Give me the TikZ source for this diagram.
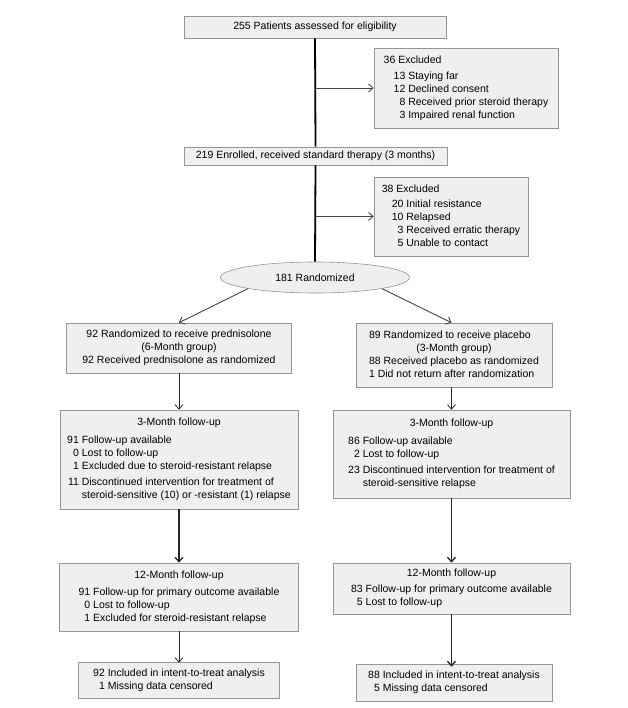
\documentclass[tikz,border=0pt]{standalone}
\usepackage{fontspec}
\setmainfont{Liberation Sans}
\usetikzlibrary{arrows.meta,shapes.geometric}
\definecolor{boxfill}{RGB}{238,239,239}
\definecolor{boxline}{RGB}{150,150,150}
\definecolor{arrgray}{RGB}{70,70,70}
\begin{document}
\begin{tikzpicture}[x=1pt,y=-1pt,
  font=\fontsize{10.5}{13}\selectfont,
  fbox/.style={draw=boxline, fill=boxfill, line width=0.6pt, inner sep=0pt, align=center},
  oval/.style={ellipse, draw=boxline, fill=boxfill, line width=0.6pt, inner sep=0pt},
  mainline/.style={line width=1.8pt, black},
  tip/.style={-{Straight Barb[length=4.5pt,width=8pt]}},
  branch/.style={tip, line width=0.9pt, arrgray},
  thinarr/.style={tip, line width=0.8pt, black!85},
  medarr/.style={tip, line width=1.3pt, black!85},
]
\useasboundingbox[fill=white] (0,0) rectangle (627,708);

% top flow
\node[fbox, minimum width=262pt, minimum height=22pt] (pa) at (315,27) {255 Patients assessed for eligibility};
\node[fbox, minimum width=184pt, minimum height=80pt] (ex1) at (466,88) {%
\begin{tabular}{@{}l@{}r@{ }l@{}}
\multicolumn{3}{@{}l@{}}{36 Excluded}\\[3pt]
\hspace{10pt} & 13 & Staying far\\
 & 12 & Declined consent\\
 & 8 & Received prior steroid therapy\\
 & 3 & Impaired renal function
\end{tabular}};
\node[fbox, minimum width=263pt, minimum height=18pt] (en) at (315.5,156) {219 Enrolled, received standard therapy (3 months)};
\node[fbox, minimum width=154pt, minimum height=79pt] (ex2) at (451,216.5) {%
\begin{tabular}{@{}l@{}r@{ }l@{}}
\multicolumn{3}{@{}l@{}}{38 Excluded}\\[2pt]
\hspace{10pt} & 20 & Initial resistance\\
 & 10 & Relapsed\\
 & 3 & Received erratic therapy\\
 & 5 & Unable to contact
\end{tabular}};
\node[oval, minimum width=189pt, minimum height=31pt] (rand) at (315,277.5) {181 Randomized};

% left arm
\node[fbox, minimum width=225pt, minimum height=50pt] (L1) at (179,348) {%
92 Randomized to receive prednisolone\\
(6-Month group)\\
92 Received prednisolone as randomized};
\node[fbox, minimum width=238pt, minimum height=99pt] (L2) at (179,459.5) {%
\begin{tabular}{@{}r@{ }l@{}}
\multicolumn{2}{@{}c@{}}{3-Month follow-up}\\[5pt]
91 & Follow-up available\\
0 & Lost to follow-up\\
1 & Excluded due to steroid-resistant relapse\\[3pt]
11 & Discontinued intervention for treatment of\\
 & steroid-sensitive (10) or -resistant (1) relapse
\end{tabular}};
\node[fbox, minimum width=239pt, minimum height=68pt] (L3) at (179,597) {%
\begin{tabular}{@{}r@{ }l@{}}
\multicolumn{2}{@{}c@{}}{12-Month follow-up}\\[4pt]
91 & Follow-up for primary outcome available\\
0 & Lost to follow-up\\
1 & Excluded for steroid-resistant relapse
\end{tabular}};
\node[fbox, minimum width=201pt, minimum height=36pt] (L4) at (179,680) {%
\begin{tabular}{@{}r@{ }l@{}}
92 & Included in intent-to-treat analysis\\
1 & Missing data censored
\end{tabular}};

% right arm
\node[fbox, minimum width=196pt, minimum height=64pt] (R1) at (454,355) {%
\begin{tabular}{@{}l@{}}
89 Randomized to receive placebo\\
\multicolumn{1}{@{}c@{}}{(3-Month group)}\\
88 Received placebo as randomized\\
1 Did not return after randomization
\end{tabular}};
\node[fbox, minimum width=237pt, minimum height=88pt] (R2) at (451.5,454) {%
\begin{tabular}{@{}r@{ }l@{}}
\multicolumn{2}{@{}c@{}}{3-Month follow-up}\\[5pt]
86 & Follow-up available\\
2 & Lost to follow-up\\[3pt]
23 & Discontinued intervention for treatment of\\
 & steroid-sensitive relapse\hfill
\end{tabular}};
\node[fbox, minimum width=237pt, minimum height=51pt] (R3) at (451.5,588.5) {%
\begin{tabular}{@{}r@{ }l@{}}
\multicolumn{2}{@{}c@{}}{12-Month follow-up}\\[3pt]
83 & Follow-up for primary outcome available\\
5 & Lost to follow-up
\end{tabular}};
\node[fbox, minimum width=196pt, minimum height=37pt] (R4) at (454,682.5) {%
\begin{tabular}{@{}r@{ }l@{}}
88 & Included in intent-to-treat analysis\\
5 & Missing data censored
\end{tabular}};

% connectors
\draw[mainline] (pa.south) -- (en.north);
\draw[mainline] (en.south) -- (rand.north);
\draw[branch] (pa.south |- ex1.west) -- (ex1.west);
\draw[branch] (en.south |- ex2.west) -- (ex2.west);
\draw[branch] (rand.south west) -- (L1.north);
\draw[branch] (rand.south east) -- (R2.north |- R1.north);
\draw[thinarr] (L1.south) -- (L2.north);
\draw[medarr] (L2.south) -- (L3.north);
\draw[thinarr] (L3.south) -- ([yshift=-1pt]L4.north);
\draw[thinarr] (R2.north |- R1.south) -- (R2.north);
\draw[medarr] (R2.south) -- (R3.north);
\draw[medarr] (R3.south) -- ([yshift=-3pt]R4.north -| R3.south);
\end{tikzpicture}
\end{document}
